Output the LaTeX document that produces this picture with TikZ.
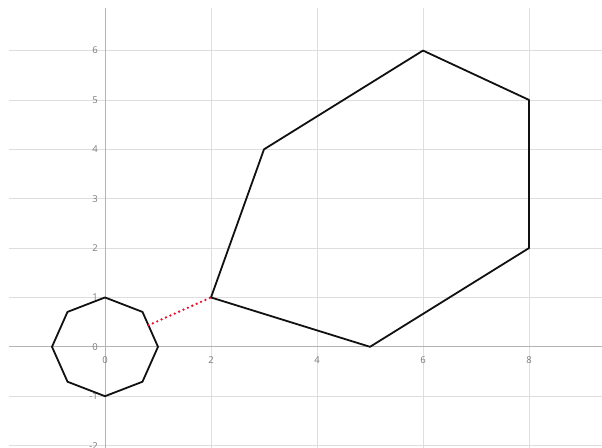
\documentclass[tikz,border=0pt]{standalone}
\usepackage{fontspec}
\setsansfont{Open Sans}
\usepackage{tikz}
\usetikzlibrary{calc}
\definecolor{PlotGrid}{HTML}{DEDEDE}
\definecolor{PlotAxis}{HTML}{B4B4B4}
\definecolor{PlotTick}{HTML}{7A7A7A}
\definecolor{PlotEdge}{HTML}{111111}
\definecolor{PlotGap}{HTML}{E8102A}
\tikzset{
  every picture/.style = {line join=round, line cap=round},
  grid line/.style = {draw=PlotGrid, line width=0.8pt, line cap=butt},
  axis line/.style = {draw=PlotAxis, line width=0.9pt, line cap=butt},
  tick label/.style = {
    font=\sffamily\fontsize{9.5}{10}\selectfont,
    text=PlotTick,
    inner sep=0pt
  },
  shape edge/.style = {draw=PlotEdge, line width=1.8pt},
  gap line/.style = {
    draw=PlotGap,
    line width=2.6pt,
    line cap=round,
    dash pattern=on 0pt off 4.8pt
  }
}

\begin{document}
\begin{tikzpicture}[x=53pt,y=49.375pt]
  \useasboundingbox (-1.981,-2.045) rectangle (9.377,7.024);

  % grid
  \foreach \gy in {-2,-1,1,2,3,4,5,6}
    \draw[grid line] (-1.81,\gy) -- (9.377,\gy);
  \foreach \gx in {2,4,6,8}
    \draw[grid line] (\gx,-2.045) -- (\gx,6.86);
  \draw[axis line] (-1.81,0) -- (9.377,0);
  \draw[axis line] (0,-2.045) -- (0,6.86);

  % tick labels
  \foreach \gy in {-2,-1,0,1,2,3,4,5,6}
    \node[tick label, anchor=east] (ylab\gy) at ([xshift=-7pt]0,\gy) {\gy};
  \foreach \gx in {0,2,4,6,8}
    \node[tick label] (xlab\gx) at ([yshift=-13pt]\gx,0) {\gx};

  % octagon
  \coordinate (o1) at (90:1);
  \coordinate (o2) at (45:1);
  \coordinate (o3) at (0:1);
  \coordinate (o4) at (-45:1);
  \coordinate (o5) at (-90:1);
  \coordinate (o6) at (-135:1);
  \coordinate (o7) at (180:1);
  \coordinate (o8) at (135:1);
  \draw[shape edge] (o1) -- (o2) -- (o3) -- (o4) -- (o5) -- (o6) -- (o7) -- (o8) -- cycle;

  % hexagon
  \coordinate (h1) at (2,1);
  \coordinate (h2) at (3,4);
  \coordinate (h3) at (6,6);
  \coordinate (h4) at (8,5);
  \coordinate (h5) at (8,2);
  \coordinate (h6) at (5,0);
  \draw[shape edge] (h1) -- (h2) -- (h3) -- (h4) -- (h5) -- (h6) -- cycle;

  % shortest gap
  \coordinate (foot) at ($(o2)!(h1)!(o3)$);
  \draw[gap line] (foot) -- (h1);
\end{tikzpicture}
\end{document}
